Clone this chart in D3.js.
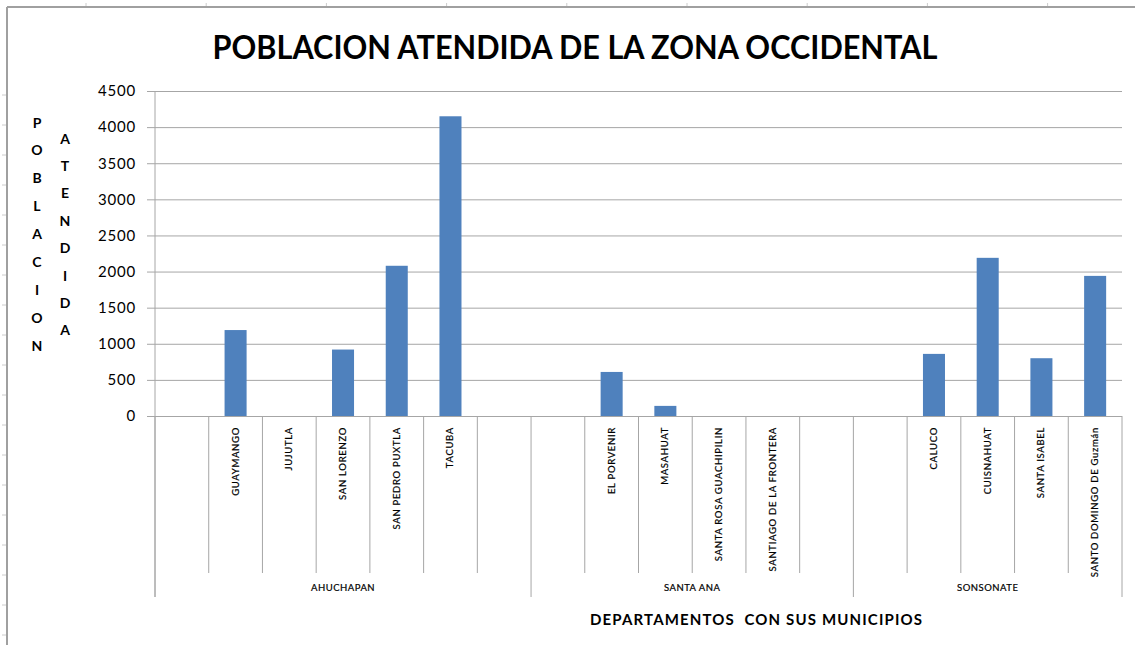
<!DOCTYPE html>
<html>
<head>
<meta charset="utf-8">
<script src="https://cdn.jsdelivr.net/npm/d3@7"></script>
<style>
  body { margin: 0; background: #fff; }
  svg { display: block; }
</style>
</head>
<body>
<svg id="chart" width="1135" height="645"></svg>
<script>
// datos
var departamentos = ['AHUCHAPAN', 'SANTA ANA', 'SONSONATE']
var municipiosAhuachapan = ['', 'GUAYMANGO', 'JUJUTLA', 'SAN LORENZO', 'SAN PEDRO PUXTLA', 'TACUBA', '']
var municipiosSantaAna = ['', 'EL PORVENIR', 'MASAHUAT', 'SANTA ROSA GUACHIPILIN', 'SANTIAGO DE LA FRONTERA', '']
var municipiosSonsonate = ['', 'CALUCO', 'CUISNAHUAT', 'SANTA ISABEL', 'SANTO DOMINGO DE Guzmán']
var valoresAhuachapan = [null, 1190, 0, 920, 2080, 4150, null]
var valoresSantaAna = [null, 610, 140, 0, 0, null]
var valoresSonsonate = [null, 860, 2190, 800, 1940]
var yTicks = [0, 500, 1000, 1500, 2000, 2500, 3000, 3500, 4000, 4500]

var titulo = 'POBLACION ATENDIDA DE LA ZONA OCCIDENTAL'
var tituloX = 'DEPARTAMENTOS  CON SUS MUNICIPIOS'
var tituloY1 = 'POBLACION'
var tituloY2 = 'ATENDIDA'

// estilos
var colorBar = '#4f81bd'
var colorGrid = '#a6a6a6'
var colorFrame = '#a0a0a0'
var fontFamily = 'Lato, "Open Sans", sans-serif'

var grupos = [
  { name: departamentos[0], munis: municipiosAhuachapan, vals: valoresAhuachapan },
  { name: departamentos[1], munis: municipiosSantaAna, vals: valoresSantaAna },
  { name: departamentos[2], munis: municipiosSonsonate, vals: valoresSonsonate }
]

// tabla plana de categorias
var rows = []
grupos.forEach(function(g, gi) {
  g.munis.forEach(function(m, i) {
    rows.push({ key: gi + '-' + i, muni: m, value: g.vals[i], grupo: gi, first: i === 0 })
  })
})

var svg = d3.select('#chart')
var plotLeft = 155, plotRight = 1122, plotTop = 91, plotBottom = 416

var x = d3.scaleBand().domain(rows.map(function(d) { return d.key })).range([plotLeft, plotRight]).padding(0)
var y = d3.scaleLinear().domain([0, 4500]).range([plotBottom, plotTop])
var bw = x.bandwidth()
var barW = bw * 0.41

svg.append('rect').attr('width', 1135).attr('height', 645).attr('fill', '#fff')

// marco de la hoja
var frame = svg.append('g').attr('stroke', colorFrame).attr('fill', 'none')
frame.append('line').attr('x1', 7).attr('x2', 1135).attr('y1', 7).attr('y2', 7).attr('stroke-width', 2)
frame.append('line').attr('x1', 7).attr('x2', 7).attr('y1', 7).attr('y2', 645).attr('stroke-width', 2)
d3.range(86, 1135, 120.2).forEach(function(cx) {
  frame.append('line').attr('x1', cx).attr('x2', cx).attr('y1', 3).attr('y2', 6).attr('stroke', '#ccc')
})
d3.range(95, 645, 30).forEach(function(cy) {
  frame.append('line').attr('x1', 2).attr('x2', 6).attr('y1', cy).attr('y2', cy).attr('stroke', '#ccc')
})

// lineas de cuadricula
svg.append('g')
  .attr('transform', 'translate(' + plotLeft + ',0)')
  .call(d3.axisLeft(y).tickValues(yTicks).tickSize(-(plotRight - plotLeft)).tickFormat(''))
  .call(function(g) { g.select('.domain').remove() })
  .selectAll('line').attr('stroke', colorGrid)

// eje y
var yAxis = svg.append('g')
  .attr('transform', 'translate(' + plotLeft + ',0)')
  .call(d3.axisLeft(y).tickValues(yTicks).tickSize(8).tickPadding(11).tickFormat(d3.format('d')))
yAxis.select('.domain').remove()
yAxis.selectAll('line').attr('stroke', colorGrid)
yAxis.selectAll('text')
  .attr('font-family', fontFamily)
  .attr('font-size', 15)
  .attr('letter-spacing', 0.8)
  .attr('fill', '#000')
svg.append('line').attr('x1', plotLeft).attr('x2', plotLeft).attr('y1', plotTop).attr('y2', 597).attr('stroke', colorGrid)

// barras
svg.append('g').selectAll('rect')
  .data(rows.filter(function(d) { return d.value })).join('rect')
  .attr('x', function(d) { return x(d.key) + (bw - barW) / 2 })
  .attr('width', barW)
  .attr('y', function(d) { return y(d.value) })
  .attr('height', function(d) { return y(0) - y(d.value) })
  .attr('fill', colorBar)

// divisores de categorias
svg.append('g').selectAll('line')
  .data(rows).join('line')
  .attr('x1', function(d) { return x(d.key) })
  .attr('x2', function(d) { return x(d.key) })
  .attr('y1', plotBottom)
  .attr('y2', function(d) { return d.first ? 597 : 573 })
  .attr('stroke', colorGrid)
svg.append('line').attr('x1', plotRight).attr('x2', plotRight).attr('y1', plotBottom).attr('y2', 597).attr('stroke', colorGrid)

// etiquetas de municipios
svg.append('g').selectAll('text')
  .data(rows.filter(function(d) { return d.muni })).join('text')
  .attr('transform', function(d) { return 'translate(' + (x(d.key) + bw / 2 + 3) + ',427) rotate(-90)' })
  .attr('text-anchor', 'end')
  .attr('font-family', fontFamily)
  .attr('font-size', 9.5)
  .attr('letter-spacing', 0.7)
  .attr('fill', '#000')
  .attr('stroke', '#000')
  .attr('stroke-width', 0.2)
  .text(function(d) { return d.muni })

// etiquetas de departamentos
svg.append('g').selectAll('text')
  .data(grupos).join('text')
  .attr('x', function(g, gi) {
    var ks = rows.filter(function(r) { return r.grupo === gi })
    var x0 = x(ks[0].key), x1 = x(ks[ks.length - 1].key) + bw
    return (x0 + x1) / 2
  })
  .attr('y', 591)
  .attr('text-anchor', 'middle')
  .attr('font-family', fontFamily)
  .attr('font-size', 9.5)
  .attr('letter-spacing', 0.5)
  .attr('fill', '#000')
  .attr('stroke', '#000')
  .attr('stroke-width', 0.2)
  .text(function(g) { return g.name })

// titulos
svg.append('text')
  .attr('x', 575).attr('y', 59)
  .attr('text-anchor', 'middle')
  .attr('font-family', fontFamily)
  .attr('font-weight', 'bold')
  .attr('font-size', 33)
  .attr('textLength', 725)
  .attr('lengthAdjust', 'spacingAndGlyphs')
  .text(titulo)

svg.append('text')
  .attr('x', 756).attr('y', 625)
  .attr('text-anchor', 'middle')
  .attr('font-family', fontFamily)
  .attr('font-weight', 'bold')
  .attr('font-size', 15)
  .attr('textLength', 332)
  .attr('xml:space', 'preserve')
  .style('white-space', 'pre')
  .text(tituloX)

function letrasVerticales(txt, cx, y0, step) {
  svg.append('g').selectAll('text')
    .data(txt.split('')).join('text')
    .attr('x', cx)
    .attr('y', function(d, i) { return y0 + i * step })
    .attr('text-anchor', 'middle')
    .attr('dominant-baseline', 'central')
    .attr('font-family', fontFamily)
    .attr('font-weight', 'bold')
    .attr('font-size', 14)
    .text(function(d) { return d })
}
letrasVerticales(tituloY1, 37, 122, 27.9)
letrasVerticales(tituloY2, 65, 138, 27.4)
</script>
</body>
</html>
